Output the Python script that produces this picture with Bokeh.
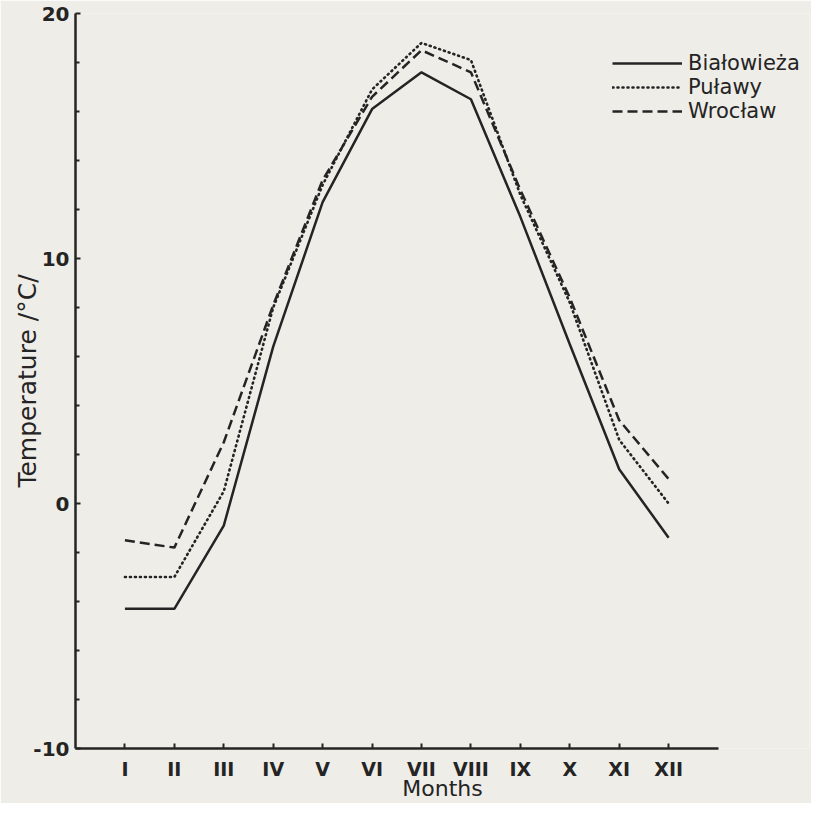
from bokeh.plotting import figure
from bokeh.models import FixedTicker, Legend, LegendItem
from bokeh.embed import file_html
from bokeh.resources import INLINE

months = list(range(1, 13))
month_labels = ["I", "II", "III", "IV", "V", "VI", "VII", "VIII", "IX", "X", "XI", "XII"]
bialowieza = [-4.3, -4.3, -0.9, 6.4, 12.3, 16.1, 17.6, 16.5, 11.7, 6.5, 1.4, -1.4]
pulawy = [-3.0, -3.0, 0.5, 8.0, 13.0, 16.9, 18.8, 18.1, 12.6, 8.2, 2.6, 0.0]
wroclaw = [-1.5, -1.8, 2.5, 8.1, 13.2, 16.6, 18.5, 17.6, 12.8, 8.4, 3.4, 1.0]
y_ticks = [-10, 0, 10, 20]
y_tick_labels = ["-10", "0", "10", "20"]
y_minor = [-8, -6, -4, -2, 2, 4, 6, 8, 12, 14, 16, 18]

FONT = "DejaVu Sans"
INK = "#242424"
BG = "#efede8"

p = figure(width=811, height=803, x_range=(0, 14.85), y_range=(-10, 20),
           output_backend="svg", toolbar_location=None,
           min_border_left=75, min_border_top=13, min_border_right=2, min_border_bottom=55,
           background_fill_color=BG, border_fill_color=BG)
p.outline_line_color = None
p.grid.visible = False

r1 = p.line(months, bialowieza, line_color=INK, line_width=2.5)
r2 = p.line(months, pulawy, line_color=INK, line_width=2.6, line_dash="1 4", line_cap="round")
r3 = p.line(months, wroclaw, line_color=INK, line_width=2.5, line_dash="10 5")

xa = p.xaxis[0]
xa.ticker = FixedTicker(ticks=months, minor_ticks=[])
xa.major_label_overrides = {m: l for m, l in zip(months, month_labels)}
xa.bounds = (0, 13)
xa.axis_label = "Months"

ya = p.yaxis[0]
ya.ticker = FixedTicker(ticks=y_ticks, minor_ticks=y_minor)
ya.major_label_overrides = {t: l for t, l in zip(y_ticks, y_tick_labels)}
ya.bounds = (-10, 20)
ya.axis_label = "Temperature /°C/"

for ax in (xa, ya):
    ax.axis_line_color = INK
    ax.axis_line_width = 2.5
    ax.major_tick_line_color = INK
    ax.major_tick_line_width = 2
    ax.major_tick_in = 5
    ax.major_tick_out = 0
    ax.minor_tick_line_color = INK
    ax.minor_tick_line_width = 2
    ax.minor_tick_in = 4
    ax.minor_tick_out = 0
    ax.major_label_text_font = FONT
    ax.major_label_text_color = INK
    ax.major_label_text_font_style = "bold"
    ax.axis_label_text_font = FONT
    ax.axis_label_text_color = INK
    ax.axis_label_text_font_style = "normal"

xa.major_label_text_font_size = "19px"
xa.major_label_standoff = 9
xa.axis_label_text_font_size = "22px"
xa.axis_label_standoff = -7
ya.major_label_text_font_size = "20px"
ya.major_label_standoff = 6
ya.axis_label_text_font_size = "25px"
ya.axis_label_standoff = -12

legend = Legend(items=[LegendItem(label="Białowieża", renderers=[r1]),
                       LegendItem(label="Puławy", renderers=[r2]),
                       LegendItem(label="Wrocław", renderers=[r3])],
                location=(537, 625), padding=0, spacing=0, margin=0,
                glyph_width=70, glyph_height=22, label_height=22, label_standoff=6,
                label_text_font=FONT, label_text_font_size="21px", label_text_color=INK,
                label_text_line_height=1.0,
                background_fill_alpha=0, border_line_color=None)
p.add_layout(legend)

open("out.html", "w").write(file_html(p, INLINE))
